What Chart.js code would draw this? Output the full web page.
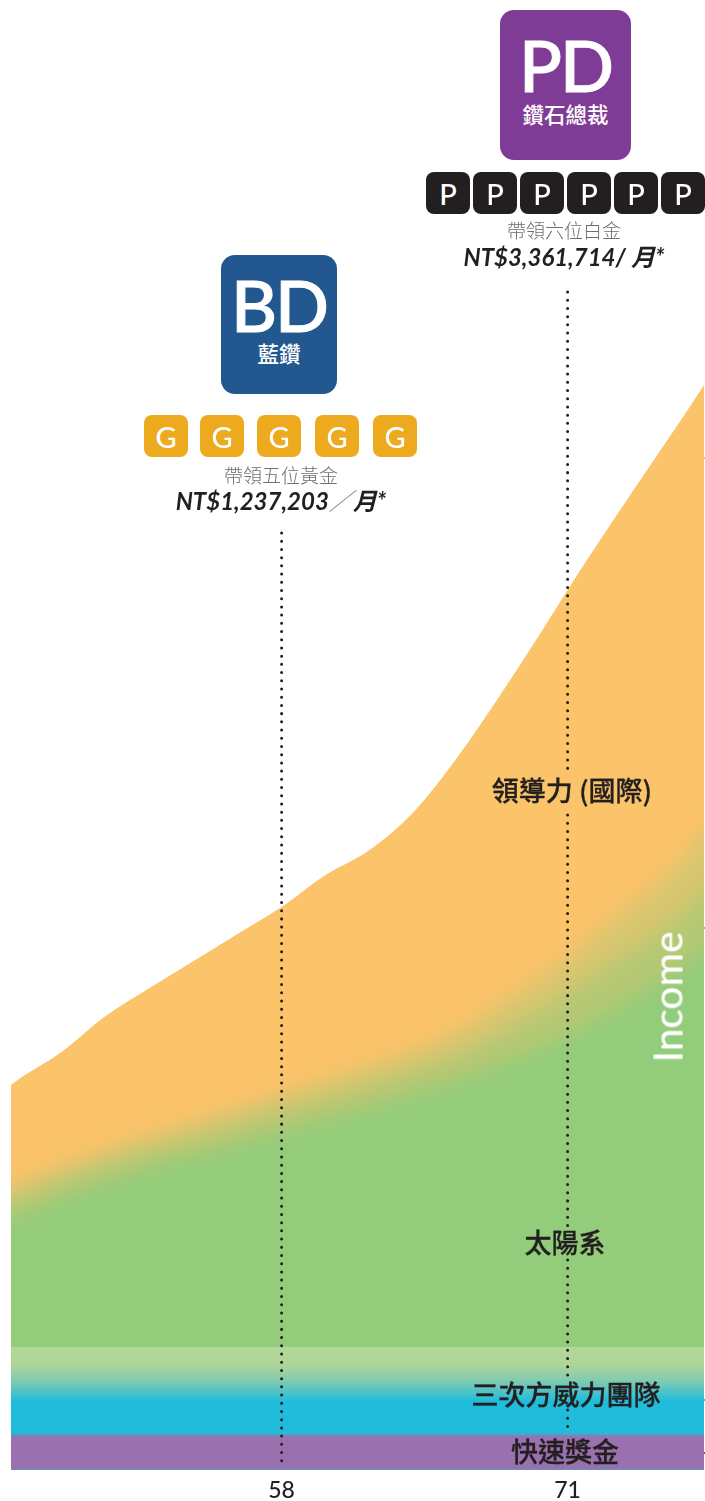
<!DOCTYPE html>
<html lang="zh-Hant">
<head>
<meta charset="utf-8">
<title>Income</title>
<script src="https://cdn.jsdelivr.net/npm/chart.js@4"></script>
<style>
  html, body { margin: 0; padding: 0; background: #fff; }
  body { position: relative; width: 705px; height: 1501px; overflow: hidden; font-family: Lato, "Noto Sans CJK TC", sans-serif; color: #231f20; }
  canvas { position: absolute; left: 0; top: 0; }
  .abs { position: absolute; white-space: nowrap; }
  .rank { position: absolute; border-radius: 14px; color: #fff; text-align: center; }
  .rank b { display: block; font: 500 71px/1 Lato; letter-spacing: -2px; -webkit-text-stroke: 1px #fff; }
  .rank span { display: block; font: 500 21.5px/1 "Noto Sans CJK TC"; }
  .chip { position: absolute; border-radius: 8px; color: #fff; text-align: center; font: 500 29px/43px Lato; }
  .sub { font: 300 19px "Noto Sans CJK TC"; color: #6d6e71; transform: translateX(-50%); }
  .pay { font: italic 700 24px Lato, "Noto Sans CJK TC"; color: #231f20; transform: translateX(-50%); }
  .pay i { font-weight: 300; color: #8a8a8a; }
  .lab { font: 500 27px "Noto Sans CJK TC"; color: #231f20; transform: translateX(-50%); -webkit-text-stroke: 0.3px #231f20; }
  #income { left: 667px; top: 997px; font: 500 40.5px Lato; color: #fff; transform: translate(-50%, -50%) rotate(-90deg); }
</style>
</head>
<body>
<canvas id="c" width="705" height="1501"></canvas>

<div class="rank" style="left:500px;top:10px;width:131px;height:150px;background:#7f3c96">
  <b style="margin-top:19px">PD</b><span style="margin-top:3px">鑽石總裁</span>
</div>
<div id="chips-p"></div>
<div class="abs sub" style="left:564px;top:216px">帶領六位白金</div>
<div class="abs pay" style="left:564px;top:238px">NT$3,361,714/ 月*</div>

<div class="rank" style="left:221px;top:255px;width:116px;height:139px;background:#22588f">
  <b style="margin-top:14px">BD</b><span style="margin-top:2px">藍鑽</span>
</div>
<div id="chips-g"></div>
<div class="abs sub" style="left:281px;top:461px">帶領五位黃金</div>
<div class="abs pay" style="left:281px;top:482px">NT$1,237,203<i>／</i>月*</div>

<div class="abs lab" style="left:572px;top:770px">領導力 (國際)</div>
<div class="abs lab" style="left:565px;top:1222px">太陽系</div>
<div class="abs lab" style="left:566px;top:1374px">三次方威力團隊</div>
<div class="abs lab" style="left:565px;top:1431px">快速獎金</div>
<div class="abs" id="income">Income</div>

<script>
// age axis
const ages = [45, 46, 48, 50, 52, 54, 56, 58, 60, 62, 64, 66, 68, 70, 71, 72, 74, 76, 78];
const ageTicks = [58, 71];
const ageMin = 45.7;
const ageMax = 77.2;

// income (top of each band, cumulative, no printed unit)
const leadership = [373, 390, 418, 454, 482, 509, 536, 563, 595, 620, 658, 713, 777, 845, 880, 914, 980, 1045, 1112];
const solarUpper = [280, 287, 304, 320, 335, 348, 362, 376, 390, 404, 420, 440, 466, 496, 512, 530, 566, 605, 660];
const solarMiddle = [268, 272, 290, 306, 320, 332, 346, 360, 372, 386, 400, 416, 438, 462, 476, 492, 520, 552, 595];
const solarLower = [248, 254, 272, 288, 302, 314, 326, 338, 350, 362, 376, 390, 406, 424, 434, 446, 472, 500, 535];
const powerTeam = [123, 123, 123, 123, 123, 123, 123, 123, 123, 123, 123, 123, 123, 123, 123, 123, 123, 123, 123];
const fastBonus = [35, 35, 35, 35, 35, 35, 35, 35, 35, 35, 35, 35, 35, 35, 35, 35, 35, 35, 35];

// dotted guides: [from, to] runs of income at each marked age
const guide58 = [[937, 2]];
const guide71 = [[1178, 697], [655, 243], [210, 92], [60, 38]];

const yMax = 1470;
const sideTicks = [1012, 542, 70, 17];
const sideTickColors = ['#f6b756', '#8cc63f', '#1fbbda', '#7f3c96'];

const tone = {
  orange: '#fbc36a',
  green: '147, 204, 122',
  purple: '#9a70ae'
};

function toPoints(values) {
  return values.map((v, i) => ({ x: ages[i], y: v }));
}

function guidePoints(age, runs) {
  const pts = [];
  runs.forEach((run, i) => {
    if (i > 0) pts.push({ x: age, y: null });
    run.forEach(v => pts.push({ x: age, y: v }));
  });
  return pts;
}

function band(label, values, color, blur) {
  return {
    label,
    data: toPoints(values),
    backgroundColor: color,
    borderWidth: 0,
    fill: 'origin',
    pointRadius: 0,
    cubicInterpolationMode: 'monotone',
    blur
  };
}

function guide(label, age, runs) {
  return {
    label,
    data: guidePoints(age, runs),
    borderColor: '#231f20',
    borderWidth: 3,
    borderDash: [0.01, 8.2],
    borderCapStyle: 'round',
    fill: false,
    pointRadius: 0,
    spanGaps: false
  };
}

// vertical colour ramp of the power team band
function teamGradient(context) {
  const { chart } = context;
  if (!chart.chartArea) return '#1fbbda';
  const y = chart.scales.y;
  const g = chart.ctx.createLinearGradient(0, y.getPixelForValue(123), 0, y.getPixelForValue(35));
  g.addColorStop(0, '#b2d89a');
  g.addColorStop(0.2, '#aed697');
  g.addColorStop(0.38, '#82cbb0');
  g.addColorStop(0.62, '#1fbcdb');
  g.addColorStop(1, '#22bbda');
  return g;
}

// the soft band edges; has to run before Filler does
const softEdges = {
  id: 'softEdges',
  beforeDatasetDraw(chart, args) {
    const b = chart.data.datasets[args.index].blur;
    if (b) chart.ctx.filter = `blur(${b}px)`;
  },
  afterDatasetDraw(chart) {
    chart.ctx.filter = 'none';
  }
};
Chart.unregister(Chart.Filler);
Chart.register(softEdges, Chart.Filler);

new Chart(document.getElementById('c'), {
  type: 'line',
  data: {
    datasets: [
      guide('58', 58, guide58),
      guide('71', 71, guide71),
      band('快速獎金', fastBonus, tone.purple, 1.5),
      band('三次方威力團隊', powerTeam, teamGradient),
      band('太陽系', solarLower, `rgb(${tone.green})`, 9),
      band('太陽系', solarMiddle, `rgba(${tone.green}, 0.5)`, 9),
      band('太陽系', solarUpper, `rgba(${tone.green}, 0.34)`, 9),
      band('領導力 (國際)', leadership, tone.orange)
    ]
  },
  options: {
    responsive: false,
    animation: false,
    devicePixelRatio: 1,
    layout: { padding: { left: 11, right: 0, top: 0, bottom: 0 } },
    plugins: { legend: { display: false }, tooltip: { enabled: false } },
    scales: {
      x: {
        type: 'linear',
        min: ageMin,
        max: ageMax,
        afterFit(axis) { axis.height = 31; },
        afterBuildTicks(axis) { axis.ticks = ageTicks.map(value => ({ value })); },
        grid: { display: false, drawTicks: false },
        border: { display: false },
        ticks: {
          autoSkip: false,
          maxRotation: 0,
          padding: 7,
          color: '#231f20',
          font: { family: 'Lato', size: 23, weight: '500' }
        }
      },
      y: {
        position: 'right',
        min: 0,
        max: yMax,
        afterFit(axis) { axis.width = 1; },
        afterBuildTicks(axis) { axis.ticks = sideTicks.map(value => ({ value })); },
        border: { display: false },
        grid: {
          drawOnChartArea: false,
          tickLength: 1,
          lineWidth: 2,
          color: ctx => sideTickColors[sideTicks.indexOf(ctx.tick.value)]
        },
        ticks: { display: false }
      }
    }
  }
});

// small member chips under the rank badges
function chips(holder, letter, lefts, top, w, h, color) {
  const el = document.getElementById(holder);
  lefts.forEach(left => {
    const d = document.createElement('div');
    d.className = 'chip';
    d.textContent = letter;
    d.style.cssText = `left:${left}px;top:${top}px;width:${w}px;height:${h}px;background:${color}`;
    el.appendChild(d);
  });
}
chips('chips-p', 'P', [426, 473, 520, 567, 614, 661], 172, 44, 42, '#231f20');
chips('chips-g', 'G', [144, 200, 257, 315, 373], 415, 44, 42, '#edaa1f');
</script>
</body>
</html>
